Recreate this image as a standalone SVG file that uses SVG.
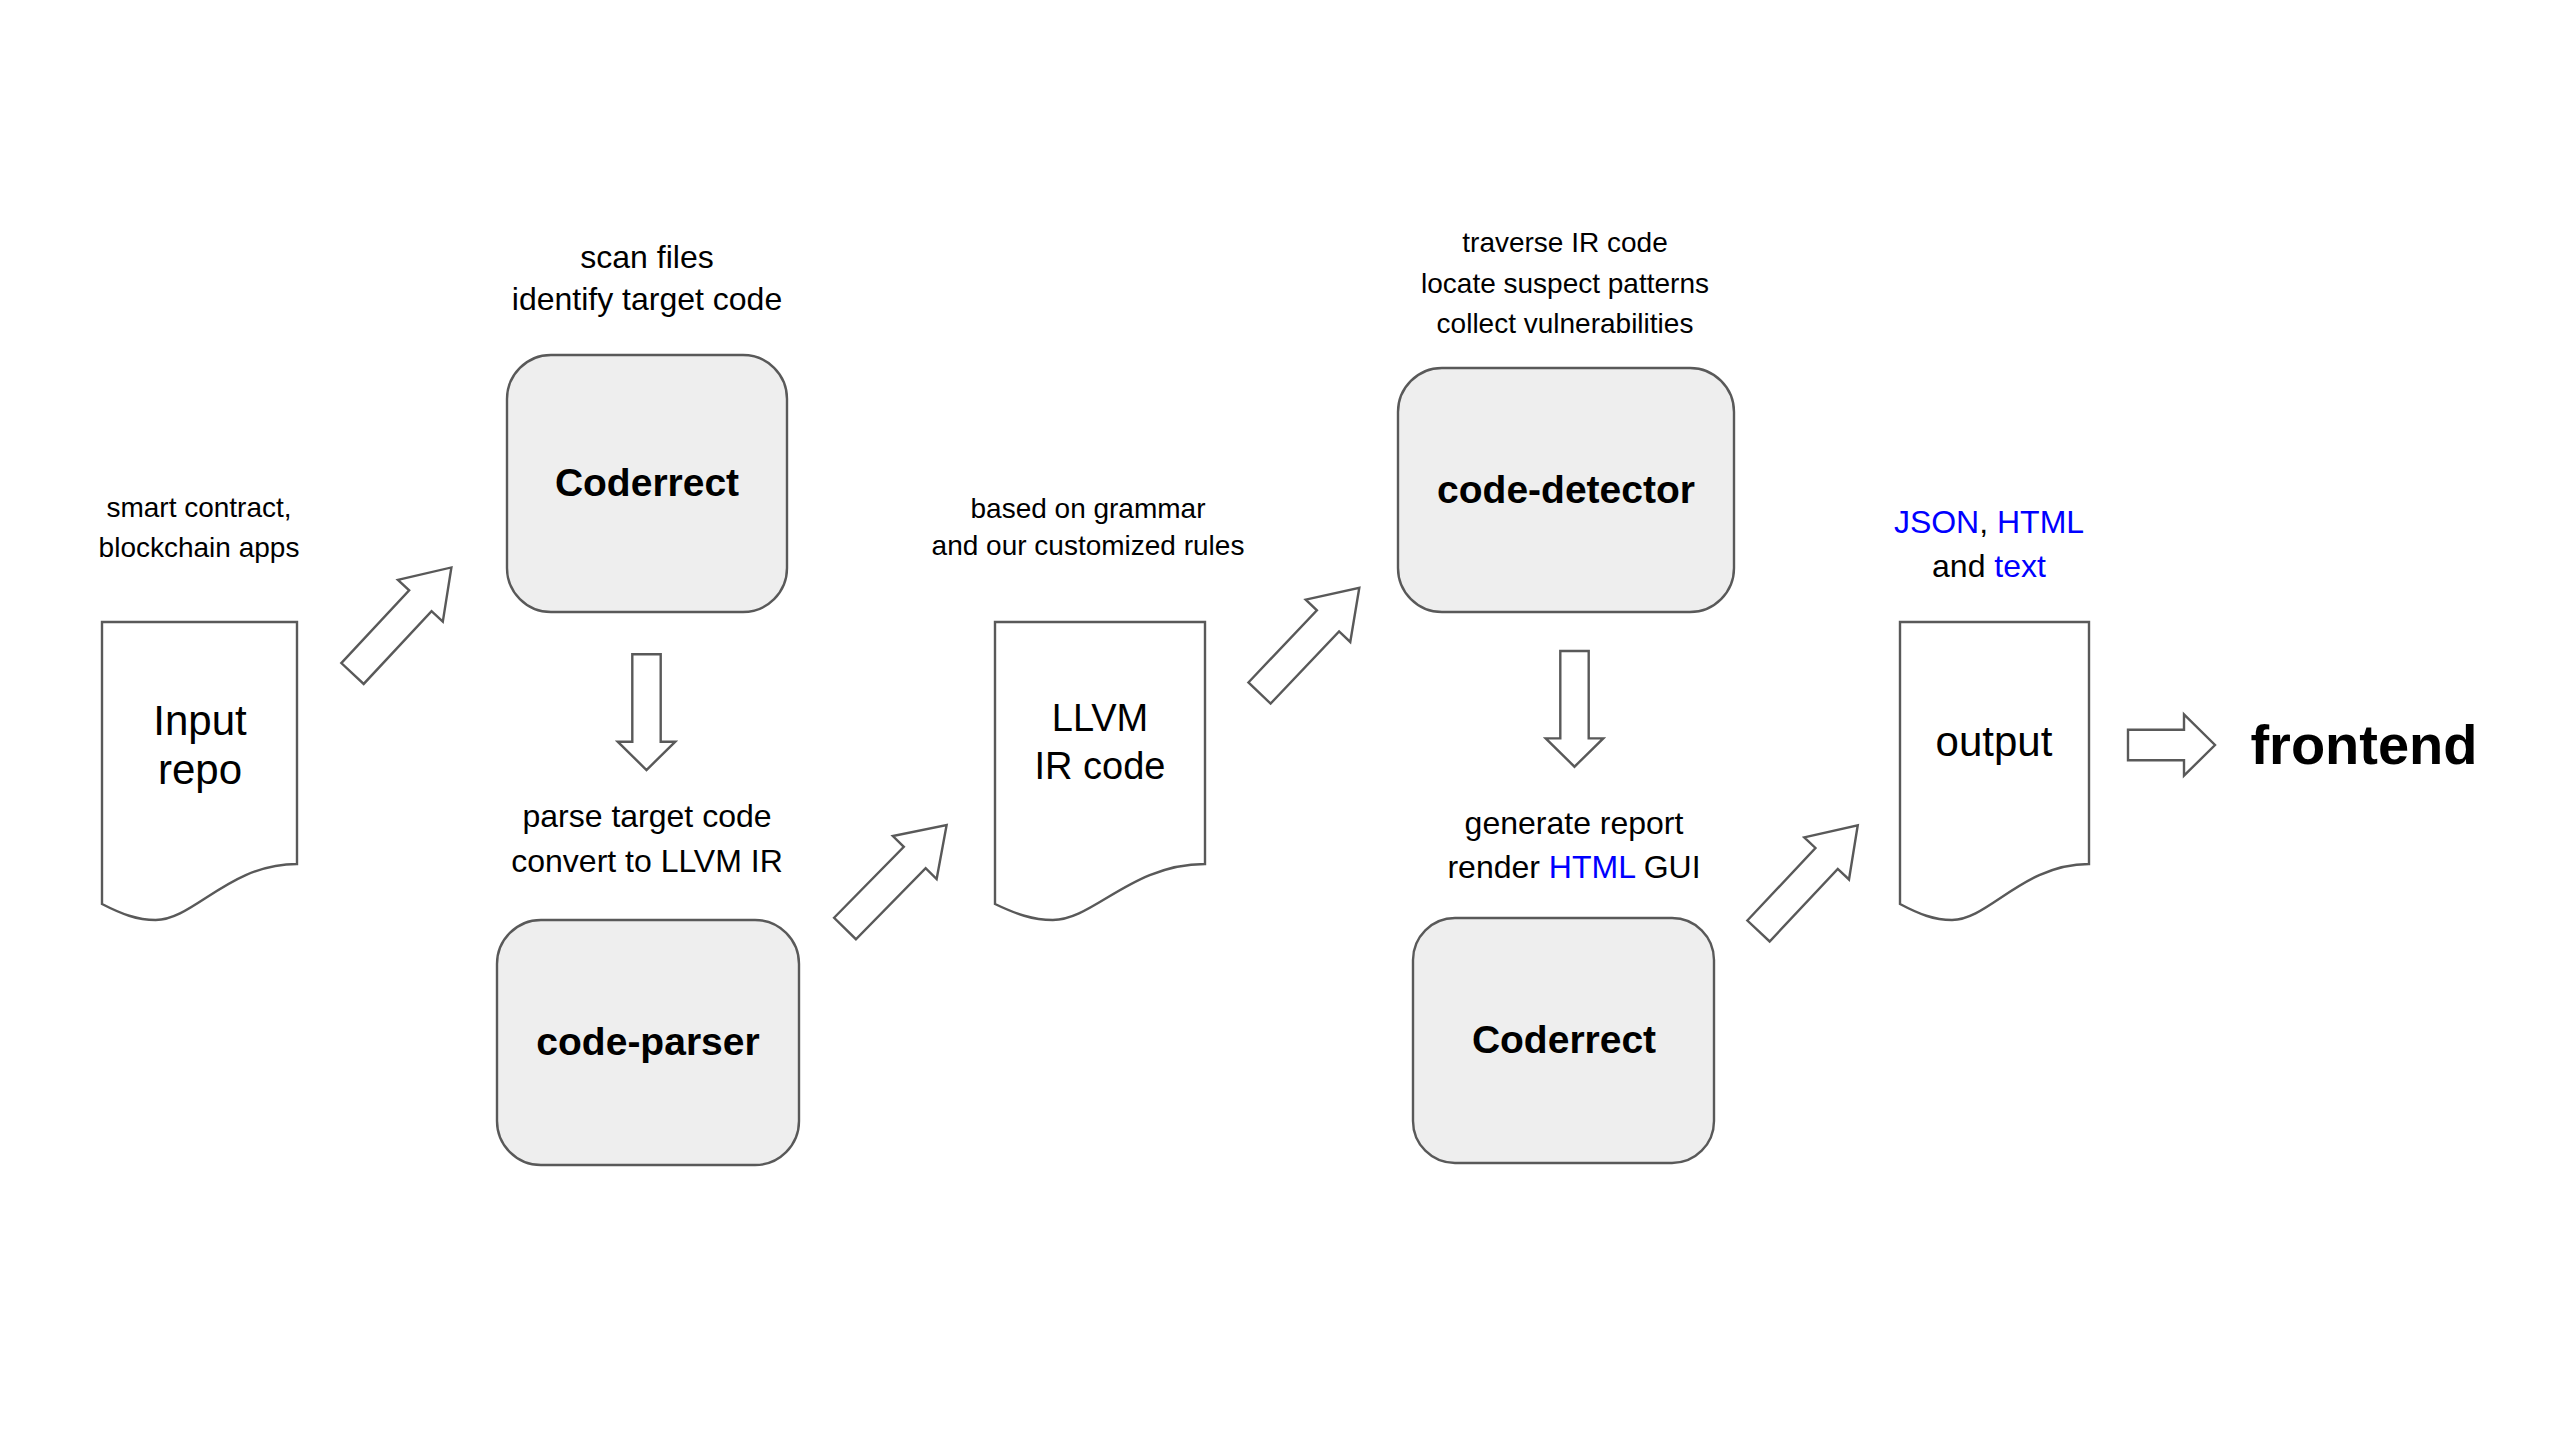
<svg xmlns="http://www.w3.org/2000/svg" xmlns:xlink="http://www.w3.org/1999/xlink" width="2560" height="1440" viewBox="0 0 2560 1440">
<style>
.sh{fill:#ffffff;stroke:#595959;stroke-width:2.4;stroke-linejoin:miter}
.box{fill:#eeeeee;stroke:#595959;stroke-width:2.4}
.t{font-family:"Liberation Sans",Arial,sans-serif;fill:#000000;text-anchor:middle}
.s28{font-size:28px}
.s32{font-size:32px}
.s38{font-size:38px}
.s42{font-size:42px}
.b39{font-size:39px;font-weight:bold}
.b56{font-size:56px;font-weight:bold}
.blue{fill:#0000ff}
</style>
<defs>
<polygon id="ua" points="0,-15.3 99.5,-15.3 99.5,-30.7 145,0 99.5,30.7 99.5,15.3 0,15.3"/>
</defs>
<rect x="0" y="0" width="2560" height="1440" fill="#ffffff"/>

<g id="connectors">
<use xlink:href="#ua" href="#ua" class="sh" transform="translate(352.5,673.5) rotate(-47)"/>
<use xlink:href="#ua" href="#ua" class="sh" transform="translate(845,928.5) rotate(-45.5)"/>
<use xlink:href="#ua" href="#ua" class="sh" transform="translate(1259.5,693) rotate(-46.5)"/>
<use xlink:href="#ua" href="#ua" class="sh" transform="translate(1758.5,931) rotate(-46.8)"/>
<polygon class="sh" points="632.3,654.3 660.7,654.3 660.7,741.7 675.3,741.7 646.5,770 617.7,741.7 632.3,741.7"/>
<polygon class="sh" points="1560.3,651 1588.7,651 1588.7,738.4 1603.3,738.4 1574.5,766.7 1545.7,738.4 1560.3,738.4"/>
<polygon class="sh" points="2128,729.7 2184,729.7 2184,714.3 2215,745 2184,775.7 2184,760.3 2128,760.3"/>
</g>

<g id="input-repo">
<path class="sh" d="M102,622 H297 V864 C228.8,864 193.7,920 155.6,920 C137.1,920 121.5,914 102,904 Z"/>
<text class="t s42" x="200" y="735">Input</text>
<text class="t s42" x="200" y="784">repo</text>
</g>
<g id="input-note">
<text class="t s28" x="199" y="517">smart contract,</text>
<text class="t s28" x="199" y="557">blockchain apps</text>
</g>

<g id="coderrect-1">
<rect class="box" x="507" y="355" width="280" height="257" rx="44" ry="44"/>
<text class="t b39" x="647" y="496">Coderrect</text>
</g>
<g id="coderrect-1-note">
<text class="t s32" x="647" y="268">scan files</text>
<text class="t s32" x="647" y="310">identify target code</text>
</g>

<g id="code-parser">
<rect class="box" x="497" y="920" width="302" height="245" rx="44" ry="44"/>
<text class="t b39" x="648" y="1055">code-parser</text>
</g>
<g id="code-parser-note">
<text class="t s32" x="647" y="827">parse target code</text>
<text class="t s32" x="647" y="872">convert to LLVM IR</text>
</g>

<g id="llvm-ir">
<path class="sh" d="M995,622 H1205 V864 C1131.5,864 1093.7,920 1052.8,920 C1032.8,920 1016,914 995,904 Z"/>
<text class="t s38" x="1100" y="731">LLVM</text>
<text class="t s38" x="1100" y="779">IR code</text>
</g>
<g id="llvm-note">
<text class="t s28" x="1088" y="518">based on grammar</text>
<text class="t s28" x="1088" y="555">and our customized rules</text>
</g>

<g id="code-detector">
<rect class="box" x="1398" y="368" width="336" height="244" rx="44" ry="44"/>
<text class="t b39" x="1566" y="503">code-detector</text>
</g>
<g id="code-detector-note">
<text class="t s28" x="1565" y="252">traverse IR code</text>
<text class="t s28" x="1565" y="293">locate suspect patterns</text>
<text class="t s28" x="1565" y="333">collect vulnerabilities</text>
</g>

<g id="coderrect-2">
<rect class="box" x="1413" y="918" width="301" height="245" rx="42" ry="42"/>
<text class="t b39" x="1564" y="1053">Coderrect</text>
</g>
<g id="coderrect-2-note">
<text class="t s32" x="1574" y="834">generate report</text>
<text class="t s32" x="1574" y="878">render <tspan class="blue">HTML</tspan> GUI</text>
</g>

<g id="output">
<path class="sh" d="M1900,622 H2089 V864 C2022.9,864 1988.8,920 1952,920 C1934,920 1918.9,914 1900,904 Z"/>
<text class="t s42" x="1994" y="756">output</text>
</g>
<g id="output-note">
<text class="t s32" x="1989" y="533"><tspan class="blue">JSON</tspan>, <tspan class="blue">HTML</tspan></text>
<text class="t s32" x="1989" y="577">and <tspan class="blue">text</tspan></text>
</g>

<g id="frontend">
<text class="t b56" x="2364" y="764">frontend</text>
</g>
</svg>
